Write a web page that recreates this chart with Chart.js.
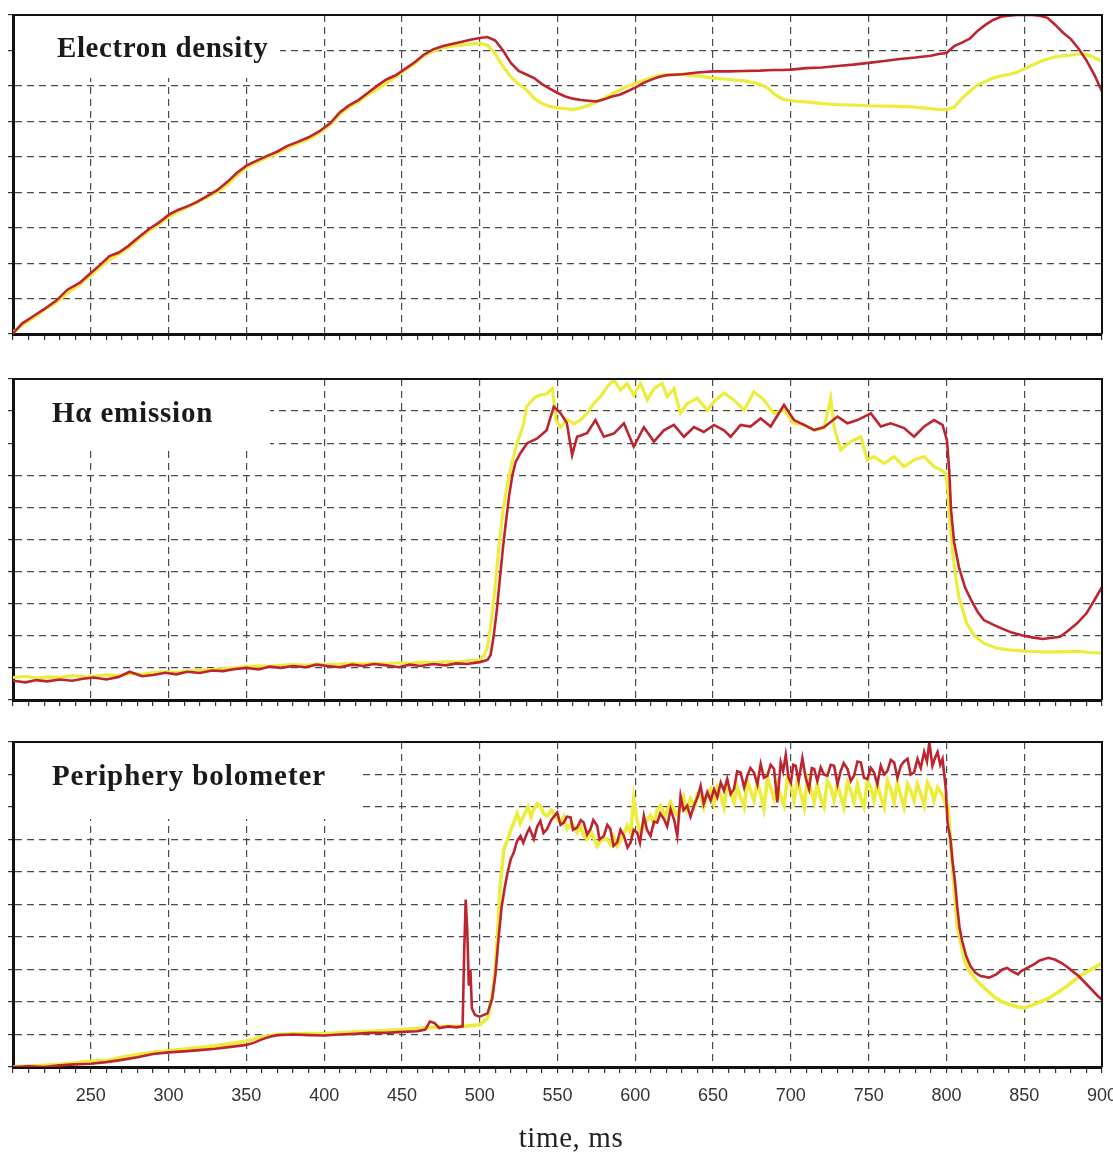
<!DOCTYPE html>
<html><head><meta charset="utf-8">
<script src="https://cdn.jsdelivr.net/npm/chart.js@4.4.0/dist/chart.umd.min.js"></script>
<style>
html,body{margin:0;padding:0;background:#fff;width:1113px;height:1153px;overflow:hidden;position:relative}
canvas{position:absolute;left:0}
</style></head><body>
<canvas id="c1" width="1113" height="345" style="top:0px"></canvas>
<canvas id="c2" width="1113" height="350" style="top:360px"></canvas>
<canvas id="c3" width="1113" height="450" style="top:720px"></canvas>
<script>
// ---------- axis ----------
const xTickLabels = [250,300,350,400,450,500,550,600,650,700,750,800,850,900];
const xAxisTitle = 'time, ms';
const xMin = 200, xMax = 900;

// ---------- panel 1 : Electron density ----------
const densTime = [200,206,213,220,228,235,243,250,256,262,268,274,280,287,294,300,306,312,318,325,331,338,344,350,357,363,370,376,383,390,397,404,410,416,422,428,434,440,446,452,458,464,470,476,482,488,494,500,505,510,515,520,525,530,535,540,545,550,555,560,565,570,575,580,585,590,595,600,605,610,615,620,630,640,650,660,670,680,685,690,695,700,710,720,730,740,750,760,770,780,790,795,800,805,810,815,820,825,830,835,840,845,850,855,860,865,870,875,880,885,890,895,900];
const densRed = [0.02,0.30,0.50,0.70,0.95,1.25,1.45,1.72,1.95,2.20,2.30,2.48,2.70,2.95,3.15,3.36,3.50,3.60,3.72,3.90,4.05,4.30,4.55,4.75,4.90,5.02,5.15,5.30,5.42,5.55,5.72,5.95,6.25,6.45,6.60,6.80,7.00,7.18,7.30,7.48,7.66,7.88,8.03,8.12,8.18,8.24,8.30,8.35,8.38,8.28,8.00,7.65,7.42,7.32,7.22,7.05,6.92,6.80,6.70,6.64,6.60,6.58,6.56,6.62,6.70,6.75,6.85,6.95,7.08,7.17,7.25,7.30,7.33,7.38,7.41,7.41,7.42,7.43,7.44,7.45,7.45,7.46,7.50,7.52,7.56,7.60,7.65,7.70,7.76,7.80,7.85,7.90,7.93,8.12,8.22,8.33,8.55,8.72,8.86,8.95,8.98,9.00,9.00,9.00,8.98,8.92,8.72,8.50,8.32,8.05,7.72,7.32,6.84];
const densYellow = [0.05,0.25,0.45,0.68,0.90,1.15,1.40,1.65,1.88,2.10,2.25,2.42,2.65,2.90,3.10,3.30,3.45,3.58,3.70,3.86,4.00,4.22,4.48,4.70,4.85,4.98,5.10,5.25,5.38,5.50,5.68,5.90,6.20,6.40,6.55,6.75,6.90,7.08,7.25,7.45,7.62,7.85,7.98,8.08,8.12,8.15,8.18,8.20,8.15,7.90,7.55,7.25,7.05,6.89,6.65,6.50,6.42,6.38,6.36,6.33,6.38,6.45,6.55,6.65,6.77,6.88,6.99,7.07,7.15,7.22,7.30,7.32,7.32,7.28,7.22,7.18,7.14,7.05,6.94,6.75,6.62,6.58,6.55,6.50,6.47,6.46,6.44,6.43,6.42,6.40,6.36,6.34,6.33,6.40,6.65,6.85,7.03,7.12,7.22,7.28,7.32,7.38,7.48,7.58,7.68,7.76,7.82,7.85,7.87,7.90,7.88,7.80,7.69];

// ---------- panel 2 : H-alpha emission ----------
const haRedTime = [200,208,215,222,230,238,245,252,260,268,275,283,290,298,305,312,320,328,335,342,350,358,365,372,380,388,395,402,410,418,425,432,440,448,455,462,470,478,485,492,500,505,507,509,511,513,515,517,519,521,523,526,530.5,537,543,547.6,552,556,559.4,562.6,569,574.4,579.8,586.2,592.7,599,605.5,612,618.4,624.8,631.3,637.7,644,650.6,657,661.3,667.7,674,680.6,687,695.6,702,708.5,715,721.3,730,736.4,742.8,751.4,757.8,764.2,772.8,779.2,785.7,792,797.5,800.3,801.8,803,805,808,812,816,820,824,830,835,842,848.5,855,862,868,873,878,884,890,895,900];
const haRed = [0.60,0.55,0.62,0.58,0.64,0.60,0.66,0.70,0.64,0.72,0.88,0.74,0.78,0.85,0.80,0.88,0.84,0.92,0.90,0.96,1.00,0.95,1.04,1.00,1.06,1.02,1.10,1.06,1.02,1.10,1.06,1.12,1.08,1.02,1.10,1.06,1.12,1.08,1.14,1.12,1.18,1.25,1.40,2.00,2.80,3.80,4.77,5.60,6.40,7.00,7.40,7.68,8.00,8.15,8.40,9.14,8.93,8.63,7.63,8.20,8.31,8.72,8.20,8.30,8.62,7.89,8.50,8.05,8.40,8.57,8.20,8.50,8.35,8.57,8.40,8.20,8.57,8.52,8.77,8.52,9.19,8.72,8.57,8.41,8.50,8.83,8.62,8.72,8.93,8.52,8.62,8.47,8.20,8.52,8.72,8.57,8.10,7.17,5.90,4.90,4.14,3.50,3.10,2.75,2.49,2.35,2.24,2.10,2.02,1.95,1.90,1.94,1.97,2.15,2.39,2.70,3.10,3.52];
const haYellowTime = [200,208,215,222,230,238,245,252,260,268,275,283,290,298,305,312,320,328,335,342,350,358,365,372,380,388,395,402,410,418,425,432,440,448,455,462,470,478,485,492,500,503,505,507,509.5,512,515,518,520.8,524,528.3,530,533,536,539,543.3,546.6,548,549,552,556,560.5,564.8,569,573.4,577.7,582,586.2,590.5,594.8,599,603.4,607.7,612,617.3,620.5,624.8,629,633.4,639.8,646.3,650.6,657,663.4,669.9,676.3,682.7,689,695.6,702,708.5,715,721.3,725.6,727.8,732,738.5,744.9,749.2,753.5,760,766.4,772.8,779.2,785.7,792,796.4,799.6,801,802,804,806,808,810,813,818,824,832,840,850,862,873,884,892,900];
const haYellow = [0.70,0.74,0.68,0.72,0.70,0.76,0.72,0.74,0.78,0.76,0.82,0.80,0.85,0.88,0.86,0.90,0.92,0.95,0.98,1.00,1.04,1.06,1.05,1.08,1.10,1.08,1.12,1.10,1.12,1.14,1.12,1.15,1.13,1.16,1.14,1.18,1.16,1.20,1.18,1.22,1.25,1.40,1.65,2.30,3.33,4.60,5.90,6.80,7.40,8.00,8.60,9.13,9.30,9.45,9.50,9.55,9.70,9.20,8.72,8.50,8.75,8.60,8.72,8.93,9.24,9.45,9.76,9.97,9.66,9.86,9.50,9.86,9.35,9.70,9.86,9.45,9.70,8.93,9.24,9.40,9.03,9.30,9.56,9.35,9.03,9.60,9.35,8.93,9.03,8.62,8.57,8.41,8.47,9.40,8.50,7.79,8.05,8.20,7.48,7.58,7.37,7.58,7.27,7.48,7.58,7.27,7.17,7.06,6.50,5.60,4.60,3.83,3.20,2.90,2.39,2.00,1.77,1.62,1.56,1.52,1.50,1.50,1.52,1.48,1.46];

// ---------- panel 3 : Periphery bolometer ----------
const bolRedTime = [200,210,220,230,240,250,260,270,280,290,300,310,320,330,340,350,355,360,365,370,380,390,400,410,420,430,440,450,460,465,468,471,474,480,485,489,490,491,492,493,494,495,497,500,505,508,510,512,514,516,518,520,521.9,524,526.2,528,530.5,532,534.8,537,539,541,543.3,546,549.8,552,554,556,558.4,560,562.6,565,566.9,569,571.2,573,575.5,577,579.8,582,584,586,588.4,590.5,592.7,595,597,599,601.2,603,605.5,607.5,609.8,612,614.1,616,618.4,620.5,622.7,625,627,629.1,631,633.4,635.5,637.7,640,642,644,646.3,648.5,650.6,652.7,654.9,657,659.1,661.3,663.4,665.5,667.7,670,672,674,676.3,678.5,680.6,682.7,684.9,687,689.2,691.3,693.5,695,696.7,698.5,700,701.5,703.1,705,707.4,709.5,711.7,713.5,715,717,719.2,721.3,723.5,725.6,727.8,730,732,734,736.4,738.5,740.6,742.8,745,747,749.2,751.4,753.5,755.6,757.8,760,762,764.2,766.4,768.5,770.7,772.8,775,777,779.2,781.4,783.5,785.7,787.5,789,791,792.6,794.3,796,797.5,799.6,800.7,802.6,804,805.5,807,808.4,810,812.8,815.5,818.7,822,827.5,832,836,839,842,846,848,852,856,860,865.6,870,874,877,881,885,889,893,897,900];
const bolRed = [0.00,0.02,0.00,0.05,0.08,0.10,0.15,0.22,0.30,0.40,0.45,0.48,0.52,0.56,0.62,0.68,0.75,0.85,0.93,0.98,1.00,0.98,0.97,1.00,1.02,1.05,1.05,1.08,1.10,1.15,1.40,1.35,1.20,1.25,1.22,1.25,3.50,5.15,4.20,2.50,3.00,1.80,1.60,1.55,1.65,2.10,2.80,3.90,4.90,5.50,6.00,6.40,6.60,6.95,7.11,6.90,7.21,7.35,7.01,7.40,7.57,7.20,7.32,7.60,7.83,7.45,7.52,7.70,7.68,7.30,7.37,7.60,7.52,7.15,7.32,7.60,7.42,7.00,7.11,7.45,7.32,6.80,6.91,7.30,7.11,6.75,6.91,7.30,7.21,6.90,7.73,7.30,7.11,7.55,7.52,7.80,7.63,7.40,7.93,7.60,7.11,8.34,7.90,8.04,7.70,8.04,8.30,8.65,8.10,8.45,8.20,8.55,8.30,8.75,8.50,8.86,8.40,8.55,9.10,9.06,8.60,8.96,9.20,9.06,8.70,9.32,8.90,8.96,9.30,9.17,8.14,9.37,9.10,9.60,8.90,8.75,9.30,9.27,8.80,9.50,8.90,8.55,9.20,9.17,8.80,9.22,9.00,8.96,9.30,9.27,8.70,9.10,9.35,9.17,8.80,8.96,9.40,9.37,8.90,8.86,9.20,9.06,8.70,9.27,9.00,9.10,9.45,9.37,8.90,9.27,9.40,9.48,9.00,9.06,9.48,9.20,9.69,9.40,9.99,9.27,9.50,9.69,9.30,9.48,8.55,7.52,7.00,6.30,5.70,4.90,4.30,3.90,3.40,3.10,2.90,2.80,2.75,2.85,3.00,3.05,2.95,2.85,2.95,3.05,3.15,3.28,3.36,3.30,3.20,3.10,2.95,2.80,2.60,2.40,2.20,2.07];
const bolYellowTime = [200,210,220,230,240,250,260,270,280,290,300,310,320,330,340,350,360,370,380,390,400,410,420,430,440,450,460,470,480,490,500,505,508,510,512,513,515.5,518,520,521.9,524,526,528.3,531,533,534.8,537,539,541,543.3,546,549.8,552,554,556.2,559,562.6,565,567,569,572,575.5,578,581.9,584,586,588.4,591,594.8,597,599,601,603.4,606,609.8,612,614,616.3,619,622.7,625,627,629.1,631,633,635.5,638,640,642,644,646,648.4,650.5,652.7,654.9,657,659,661.3,663.5,665.5,667.7,670,672,674.2,676.3,678.5,680.6,682.7,685,687,689.2,691.3,693.5,695.6,697.8,700,702,704.2,706.3,708.5,710.6,712.8,715,717,719.2,721.3,723.5,725.6,727.8,730,732,734,736.4,738.5,740.6,742.8,745,747,749.2,751.4,753.5,755.6,757.8,760,762,764.2,766.4,768.5,770.7,772.8,775,777,779.2,781.4,783.5,785.7,787.8,790,792,794.3,796.4,798,799.6,801,804,807,811.5,814,818.7,824,830.5,836,842,846,850,855,860,865.6,870,877,883,889,895,900];
const bolYellow = [0.00,0.03,0.05,0.08,0.12,0.18,0.20,0.30,0.38,0.45,0.50,0.55,0.60,0.65,0.72,0.80,0.92,1.00,1.02,1.03,1.02,1.05,1.08,1.10,1.12,1.15,1.18,1.22,1.25,1.25,1.30,1.50,2.20,3.00,4.50,5.50,6.70,7.00,7.30,7.52,7.80,7.50,7.73,8.00,7.70,7.93,8.10,8.04,7.80,7.73,7.90,7.63,7.50,7.70,7.32,7.50,7.21,7.40,7.10,7.01,7.20,6.80,7.00,7.01,6.85,7.10,6.80,7.00,7.42,7.20,8.24,7.60,7.21,7.50,7.73,7.50,7.90,8.04,7.70,8.14,7.90,7.75,8.04,8.30,7.90,8.24,8.00,8.40,8.34,8.00,8.40,8.55,8.10,8.60,8.34,8.00,8.70,8.45,8.15,8.62,8.30,8.00,8.80,8.50,8.20,8.75,8.40,7.95,8.90,8.60,8.25,8.70,8.30,8.05,8.90,8.70,8.20,8.80,8.45,8.00,8.85,8.55,8.15,8.70,8.25,8.00,8.80,8.60,8.20,8.70,8.35,8.00,8.75,8.50,8.15,8.70,8.25,8.00,8.80,8.60,8.20,8.70,8.30,8.00,8.80,8.55,8.15,8.75,8.35,8.00,8.70,8.50,8.20,8.70,8.40,8.05,8.75,8.55,8.20,8.60,8.45,8.30,8.04,8.04,6.08,4.33,3.30,3.00,2.70,2.45,2.17,2.00,1.90,1.85,1.82,1.90,2.00,2.10,2.25,2.47,2.70,2.90,3.05,3.20];

// ---------- helpers ----------
const RED = '#bd2430', YELLOW = '#ecec3c';
const pts = (t, v) => t.map((x, i) => ({x: x, y: v[i]}));

const panelTitle = {
  id: 'panelTitle',
  beforeDatasetsDraw(chart, args, o) {
    const {ctx, chartArea: a} = chart;
    ctx.save();
    ctx.fillStyle = '#ffffff';
    ctx.fillRect(a.left + 2, a.top + 1, o.w, o.h);
    ctx.font = 'bold 29px "Liberation Serif", serif';
    ctx.fillStyle = '#1a1a1a';
    ctx.textBaseline = 'alphabetic';
    ctx.textAlign = 'left';
    try { ctx.letterSpacing = o.ls; } catch (e) {}
    ctx.fillText(o.text, a.left + o.dx, a.top + o.dy);
    ctx.restore();
  }
};
const frame = {
  id: 'frame',
  afterDraw(chart, args, o) {
    const {ctx, chartArea: a} = chart;
    ctx.save();
    ctx.setLineDash([]);
    ctx.strokeStyle = '#111';
    ctx.lineWidth = 2;
    ctx.beginPath();
    ctx.moveTo(a.left, a.top); ctx.lineTo(a.right, a.top); ctx.lineTo(a.right, a.bottom);
    ctx.stroke();
    if (o && o.axisTitle) {
      ctx.font = '29px "Liberation Serif", serif';
      ctx.fillStyle = '#222';
      ctx.textAlign = 'center';
      ctx.textBaseline = 'alphabetic';
      try { ctx.letterSpacing = '0.6px'; } catch (e) {}
      ctx.fillText(o.axisTitle, o.tx, a.bottom + o.ty);
    }
    ctx.restore();
  }
};

function makePanel(id, cfg) {
  const canvas = document.getElementById(id);
  const H = canvas.height;
  return new Chart(canvas, {
    type: 'line',
    data: {
      datasets: [
        {data: cfg.red, borderColor: RED, borderWidth: 2.6, pointRadius: 0, tension: 0, fill: false},
        {data: cfg.yellow, borderColor: YELLOW, borderWidth: cfg.yw, pointRadius: 0, tension: 0, fill: false}
      ]
    },
    options: {
      responsive: false, animation: false, devicePixelRatio: 1,
      parsing: false, normalized: true,
      layout: {padding: {top: cfg.top, right: 11, left: 0, bottom: 0}},
      plugins: {legend: {display: false}, tooltip: {enabled: false},
        panelTitle: cfg.title, frame: cfg.frame || {}},
      scales: {
        x: {
          type: 'linear', position: 'bottom', min: xMin, max: xMax,
          afterFit: s => { s.height = H - cfg.bottom; s.paddingLeft = 0; s.paddingRight = 0; },
          ticks: {
            stepSize: 10, maxTicksLimit: 200, autoSkip: false, maxRotation: 0, minRotation: 0,
            display: cfg.labels, color: '#333', padding: 12,
            font: {family: '"Liberation Sans", Arial, sans-serif', size: 18},
            callback: v => xTickLabels.includes(v) ? String(v) : ''
          },
          grid: {
            color: c => (c.tick && c.tick.value % 50 === 0 && c.tick.value > xMin && c.tick.value < xMax) ? '#4a4a4a' : 'rgba(0,0,0,0)',
            lineWidth: 1.2, tickBorderDash: [], tickColor: '#333',
            tickLength: 6, drawTicks: true, tickWidth: 1.2
          },
          border: {display: true, color: '#111', width: 3, dash: [7, 5]}
        },
        y: {
          type: 'linear', position: 'left', min: 0, max: cfg.ymax,
          afterFit: s => { s.width = 13; },
          ticks: {stepSize: 1, display: false},
          grid: {
            color: c => (c.tick && c.tick.value > 0 && c.tick.value < cfg.ymax) ? '#4a4a4a' : 'rgba(0,0,0,0)',
            lineWidth: 1.2, tickBorderDash: [], tickColor: '#333',
            tickLength: 5, drawTicks: true
          },
          border: {display: true, color: '#111', width: 3, dash: [7, 5]}
        }
      }
    },
    plugins: [panelTitle, frame]
  });
}

makePanel('c1', {top: 15, bottom: 334, ymax: 9, labels: false, yw: 3.2,
  red: pts(densTime, densRed), yellow: pts(densTime, densYellow),
  title: {text: 'Electron density', w: 265, h: 62, dx: 44, dy: 42, ls: '0.6px'}});
makePanel('c2', {top: 19, bottom: 340, ymax: 10, labels: false, yw: 3.2,
  red: pts(haRedTime, haRed), yellow: pts(haYellowTime, haYellow),
  title: {text: 'H\u03b1 emission', w: 255, h: 70, dx: 39, dy: 43, ls: '0.8px'}});
makePanel('c3', {top: 22, bottom: 347, ymax: 10, labels: true, yw: 3.6,
  red: pts(bolRedTime, bolRed), yellow: pts(bolYellowTime, bolYellow),
  title: {text: 'Periphery bolometer', w: 345, h: 76, dx: 39, dy: 43, ls: '0.9px'},
  frame: {axisTitle: xAxisTitle, tx: 571, ty: 80}});
</script>
</body></html>
